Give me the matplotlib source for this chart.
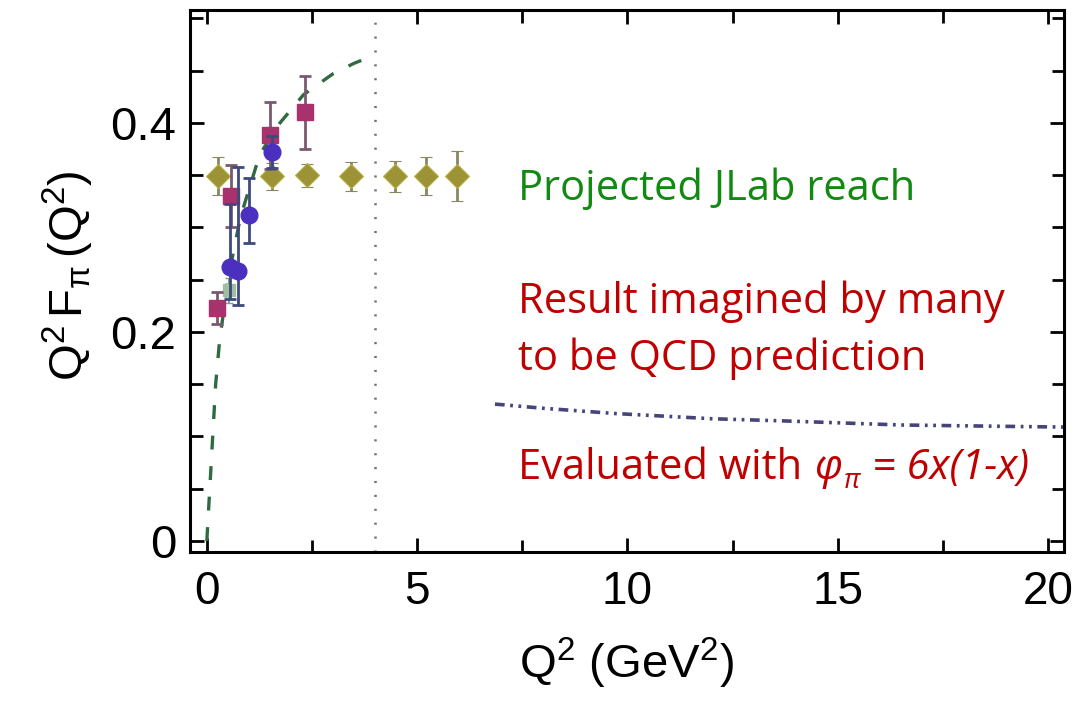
import matplotlib.pyplot as plt
from matplotlib.ticker import MultipleLocator

# Fontes
plt.rcParams['font.family'] = 'Liberation Sans'
plt.rcParams['mathtext.fontset'] = 'custom'
plt.rcParams['mathtext.rm'] = 'Liberation Sans'
plt.rcParams['mathtext.it'] = 'Liberation Sans:italic'
plt.rcParams['lines.scale_dashes'] = False

# Dados antigos (quadrados magenta)
q2_mag = [0.25, 0.57, 1.50, 2.33]
f_mag = [0.223, 0.330, 0.388, 0.410]
err_mag = [0.015, 0.030, 0.032, 0.035]

# Dados JLab (azul)
q2_blue = [0.55, 0.74, 1.00, 1.55]
f_blue = [0.262, 0.258, 0.312, 0.372]
err_blue_lo = [0.030, 0.032, 0.027, 0.015]
err_blue_hi = [0.060, 0.100, 0.035, 0.015]

# Ponto verde claro
q2_green = [0.53]
f_green = [0.240]
err_green = [0.012]

# Projecao JLab (losangos oliva)
q2_proj = [0.27, 1.55, 2.38, 3.43, 4.48, 5.20, 5.95]
f_proj = [0.349, 0.349, 0.350, 0.349, 0.349, 0.349, 0.349]
err_proj = [0.018, 0.013, 0.011, 0.014, 0.015, 0.018, 0.024]

# Curva tracejada verde
vmd_q2 = [0.0, 0.07, 0.14, 0.21, 0.30, 0.50, 0.80, 1.26, 1.74, 2.30, 3.00, 3.50, 4.00]
vmd_f = [0.0, 0.05, 0.10, 0.15, 0.19, 0.25, 0.31, 0.37, 0.40, 0.427, 0.447, 0.457, 0.465]

# Curva traco-ponto azul (pQCD)
pqcd_q2 = [6.85, 8.0, 9.7, 12.0, 13.65, 16.5, 18.4, 20.4]
pqcd_f = [0.131, 0.127, 0.122, 0.117, 0.115, 0.111, 0.110, 0.109]

Q2_CORTE = 4.0

W, H = 1073, 706
fig = plt.figure(figsize=(W / 100, H / 100), dpi=100)
ax = fig.add_axes([190 / W, (H - 552) / H, 874 / W, 542 / H])

ax.axvline(Q2_CORTE, color='#707070', lw=1.8, dashes=[1.5, 8.5], zorder=1)
ax.plot(vmd_q2, vmd_f, color='#2f6a40', lw=2.4, dashes=[10, 12], zorder=2)
ax.plot(pqcd_q2, pqcd_f, color='#45457a', lw=2.6, dashes=[7, 4, 2, 4, 2, 4], zorder=2)

ax.errorbar(q2_proj, f_proj, yerr=err_proj, fmt='D', ms=12, color='#9c9236',
            ecolor='#8a8660', elinewidth=2, capsize=4, capthick=2, mec='#b8b048', mew=0.8, zorder=3)
ax.errorbar(q2_green, f_green, yerr=err_green, fmt='s', ms=9, color='#9fbf9f',
            ecolor='#7f9f8f', elinewidth=1.5, capsize=3, zorder=3)
ax.errorbar(q2_mag, f_mag, yerr=err_mag, fmt='s', ms=12, color='#a8326c',
            ecolor='#7a5a70', elinewidth=2, capsize=4, capthick=2, zorder=4)
ax.errorbar(q2_blue, f_blue, yerr=[err_blue_lo, err_blue_hi], fmt='o', ms=12, color='#4b2fbf',
            ecolor='#3e4a7c', elinewidth=2, capsize=4, capthick=2, zorder=5)

ax.set_xlim(-0.40, 20.38)
ax.set_ylim(-0.0105, 0.508)
ax.set_xticks([0, 5, 10, 15, 20])
ax.xaxis.set_minor_locator(MultipleLocator(2.5))
ax.set_yticks([0, 0.2, 0.4])
ax.set_yticklabels(['0', '0.2', '0.4'])
ax.yaxis.set_minor_locator(MultipleLocator(0.05))
ax.tick_params(which='both', direction='in', top=True, right=True, width=2)
ax.tick_params(which='major', length=10)
ax.tick_params(which='minor', length=9)
ax.tick_params(axis='x', labelsize=33, pad=13)
ax.tick_params(axis='y', labelsize=34, pad=10)
for s in ax.spines.values():
    s.set_linewidth(2.2)

ax.set_xlabel(r'$\mathrm{Q}^2\ (\mathrm{GeV}^2)$', fontsize=34)
ax.xaxis.set_label_coords(0.5, -0.155)
ax.set_ylabel(r'$\mathrm{Q}^2\,\mathrm{F}_\mathrm{\pi}\,(\mathrm{Q}^2)$', fontsize=34)
ax.yaxis.set_label_coords(-0.108, 0.51)

# Textos de anotacao
TXT_FONT = 'Open Sans'
TXT_SIZE = 30
VERDE = '#128a12'
VERMELHO = '#c00000'
X0 = 518

def texto(x_px, y_px, s, cor, estilo='normal', size=TXT_SIZE):
    return fig.text(x_px / W, 1 - y_px / H, s, color=cor, fontsize=size, family=TXT_FONT,
                    style=estilo, va='baseline', ha='left')

texto(X0, 200, 'Projected JLab reach', VERDE)
texto(X0, 313, 'Result imagined by many', VERMELHO)
texto(X0, 370, 'to be QCD prediction', VERMELHO)

# Linha com phi_pi montada em partes
r = fig.canvas.get_renderer()
t1 = texto(X0, 479, 'Evaluated with', VERMELHO)
x = X0 + t1.get_window_extent(r).width + 13
t2 = texto(x, 479, 'φ', VERMELHO, 'italic')
x += t2.get_window_extent(r).width + 1
t3 = texto(x, 488, 'π', VERMELHO, 'italic', size=TXT_SIZE * 0.65)
x += t3.get_window_extent(r).width + 11
texto(x, 479, '= 6x(1-x)', VERMELHO, 'italic')

plt.savefig('out.png', dpi=100)
